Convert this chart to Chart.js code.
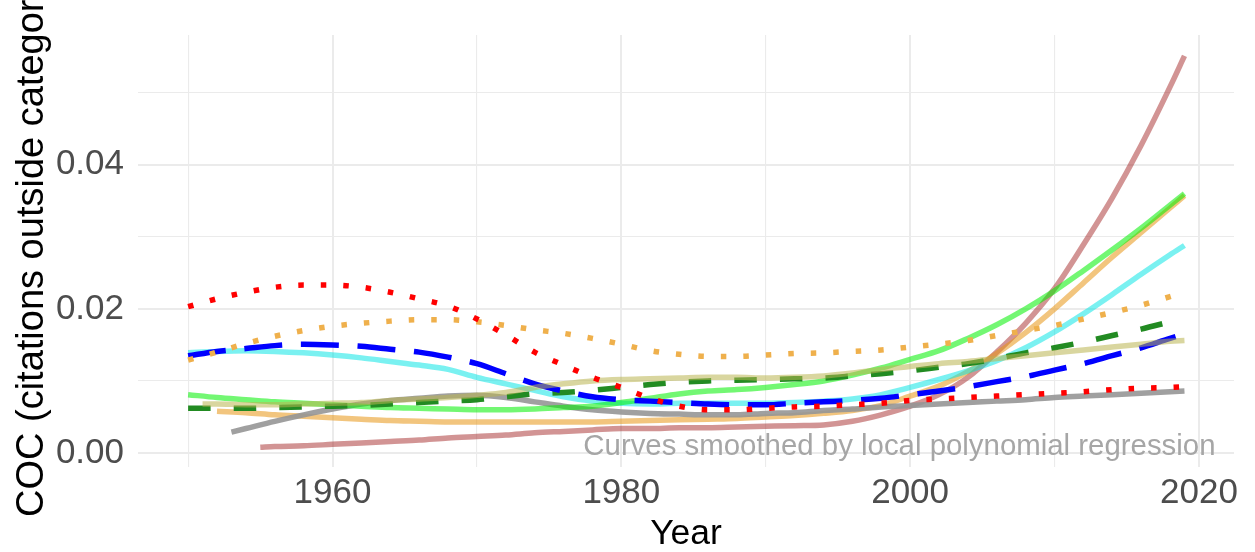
<!DOCTYPE html>
<html>
<head>
<meta charset="utf-8">
<style>
  html, body { margin: 0; padding: 0; background: #ffffff; }
  #chart { display: block; }
</style>
<script src="https://cdn.jsdelivr.net/npm/chart.js@4/dist/chart.umd.min.js"></script>
</head>
<body>
<canvas id="chart" width="1255" height="552"></canvas>
<script>
// Publication years sampled along the smoothed curves
const years = [1950, 1952, 1954, 1956, 1958, 1960, 1962, 1964, 1966, 1968,
               1970, 1972, 1974, 1976, 1978, 1980, 1982, 1984, 1986, 1988,
               1990, 1992, 1994, 1996, 1998, 2000, 2002, 2004, 2006, 2008,
               2010, 2012, 2014, 2016, 2018, 2019];

// Some categories start later than 1950
const yearsFrom1951 = [1951, ...years.slice(1)];
const yearsFrom1952 = years.slice(1);
const yearsFrom1953 = [1953, 1954, ...years.slice(3)];
const yearsFrom1955 = [1955, 1956, ...years.slice(4)];

// Smoothed COC values per category
const redDotted = [0.0203, 0.0214, 0.0223, 0.0230, 0.0233, 0.0233, 0.0230, 0.0223, 0.0214, 0.0204,
                   0.0186, 0.0164, 0.0140, 0.0122, 0.0105, 0.0091, 0.0076, 0.0065, 0.0060, 0.0060,
                   0.0062, 0.0064, 0.0065, 0.0067, 0.0069, 0.0073, 0.0075, 0.0077, 0.0079, 0.0081,
                   0.0083, 0.0085, 0.0088, 0.0090, 0.0091, 0.0092];
const orangeDotted = [0.0129, 0.0140, 0.0152, 0.0162, 0.0170, 0.0176, 0.0180, 0.0183, 0.0185, 0.0185,
                      0.0182, 0.0177, 0.0171, 0.0166, 0.0159, 0.0151, 0.0142, 0.0137, 0.0134, 0.0134,
                      0.0136, 0.0138, 0.0139, 0.0141, 0.0143, 0.0147, 0.0151, 0.0156, 0.0163, 0.0170,
                      0.0177, 0.0186, 0.0195, 0.0205, 0.0217, 0.0223];
const blueDashed = [0.0135, 0.0141, 0.0145, 0.0149, 0.0151, 0.0150, 0.0148, 0.0144, 0.0140, 0.0133,
                    0.0124, 0.0110, 0.0096, 0.0086, 0.0078, 0.0074, 0.0072, 0.0070, 0.0068, 0.0067,
                    0.0067, 0.0069, 0.0071, 0.0073, 0.0076, 0.0081, 0.0086, 0.0092, 0.0099, 0.0106,
                    0.0115, 0.0124, 0.0135, 0.0146, 0.0159, 0.0165];
const cyanSolid = [0.0139, 0.0141, 0.0142, 0.0141, 0.0139, 0.0136, 0.0132, 0.0127, 0.0122, 0.0116,
                   0.0105, 0.0096, 0.0087, 0.0078, 0.0072, 0.0069, 0.0068, 0.0069, 0.0069, 0.0069,
                   0.0069, 0.0070, 0.0072, 0.0075, 0.0081, 0.0091, 0.0102, 0.0114, 0.0128, 0.0146,
                   0.0168, 0.0193, 0.0220, 0.0248, 0.0275, 0.0288];
const greenSolid = [0.0081, 0.0077, 0.0074, 0.0071, 0.0069, 0.0067, 0.0065, 0.0063, 0.0062, 0.0061,
                    0.0060, 0.0060, 0.0061, 0.0063, 0.0065, 0.0070, 0.0076, 0.0082, 0.0086, 0.0088,
                    0.0091, 0.0095, 0.0100, 0.0108, 0.0118, 0.0130, 0.0142, 0.0159, 0.0178, 0.0200,
                    0.0225, 0.0253, 0.0282, 0.0312, 0.0344, 0.0360];
const darkGreenDashed = [0.0062, 0.0062, 0.0062, 0.0063, 0.0064, 0.0065, 0.0066, 0.0068, 0.0070, 0.0072,
                         0.0074, 0.0078, 0.0082, 0.0084, 0.0087, 0.0091, 0.0095, 0.0098, 0.0100, 0.0101,
                         0.0102, 0.0103, 0.0104, 0.0107, 0.0110, 0.0114, 0.0119, 0.0124, 0.0131, 0.0139,
                         0.0146, 0.0154, 0.0163, 0.0172, 0.0182, 0.0187];
const khakiSolid = [0.0068, 0.0068, 0.0067, 0.0067, 0.0068, 0.0069, 0.0070, 0.0073, 0.0075, 0.0077,
                    0.0080, 0.0084, 0.0091, 0.0096, 0.0100, 0.0102, 0.0103, 0.0104, 0.0105, 0.0105,
                    0.0104, 0.0105, 0.0107, 0.0111, 0.0116, 0.0120, 0.0124, 0.0127, 0.0131, 0.0135,
                    0.0139, 0.0143, 0.0147, 0.0151, 0.0155, 0.0156];
const orangeSolid = [0.0058, 0.0056, 0.0053, 0.0051, 0.0049, 0.0047, 0.0045, 0.0044, 0.0043,
                     0.0043, 0.0043, 0.0043, 0.0043, 0.0043, 0.0044, 0.0045, 0.0046, 0.0047, 0.0048,
                     0.0050, 0.0052, 0.0055, 0.0059, 0.0066, 0.0079, 0.0093, 0.0113, 0.0138, 0.0167,
                     0.0200, 0.0236, 0.0272, 0.0306, 0.0340, 0.0357];
const greySolid = [0.0029, 0.0034, 0.0044, 0.0053, 0.0061, 0.0068, 0.0073, 0.0076, 0.0079,
                   0.0080, 0.0077, 0.0071, 0.0065, 0.0060, 0.0057, 0.0055, 0.0054, 0.0053, 0.0053,
                   0.0055, 0.0056, 0.0059, 0.0061, 0.0064, 0.0066, 0.0068, 0.0070, 0.0072, 0.0074,
                   0.0077, 0.0079, 0.0081, 0.0083, 0.0085, 0.0086];
const brownSolid = [0.0008, 0.0009, 0.0010, 0.0012, 0.0014, 0.0016, 0.0018, 0.0021, 0.0023,
                    0.0025, 0.0028, 0.0030, 0.0032, 0.0034, 0.0034, 0.0035, 0.0035, 0.0036, 0.0037,
                    0.0038, 0.0039, 0.0044, 0.0053, 0.0065, 0.0081, 0.0105, 0.0140, 0.0180, 0.0228,
                    0.0289, 0.0354, 0.0427, 0.0508, 0.0551];

// Axis tick positions and labels
const xTicks = [1950, 1960, 1970, 1980, 1990, 2000, 2010, 2020];
const xLabels = [1960, 1980, 2000, 2020];
const yTicks = [0, 0.01, 0.02, 0.03, 0.04, 0.05];
const yLabels = [0, 0.02, 0.04];

const xTitle = 'Year';
const yTitle = 'COC (citations outside category)';
const note = 'Curves smoothed by local polynomial regression';

const FONT = '"Liberation Sans", Arial, sans-serif';

const toPoints = (xs, ys) => xs.map((x, i) => ({ x: x, y: ys[i] }));

function series(xs, ys, color, dash, order) {
  return {
    data: toPoints(xs, ys),
    borderColor: color,
    borderWidth: 5.5,
    borderDash: dash,
    borderCapStyle: 'butt',
    borderJoinStyle: 'round',
    pointRadius: 0,
    pointHoverRadius: 0,
    fill: false,
    cubicInterpolationMode: 'monotone',
    order: order
  };
}

const DOT = [5.5, 17];
const DASH = [22.5, 23.1];
const LONGDASH = [38, 18.7];

const datasets = [
  series(yearsFrom1955, brownSolid, 'rgba(165,42,42,0.5)', [], 10),
  series(yearsFrom1952, orangeSolid, 'rgba(232,150,20,0.55)', [], 9),
  series(yearsFrom1953, greySolid, 'rgba(150,150,150,0.9)', [], 8),
  series(years, cyanSolid, 'rgba(0,228,228,0.52)', [], 7),
  series(years, greenSolid, 'rgba(0,240,0,0.55)', [], 6),
  series(years, darkGreenDashed, '#228B22', DASH, 5),
  series(years, blueDashed, '#0000FF', LONGDASH, 4),
  series(yearsFrom1951, khakiSolid, 'rgba(185,180,80,0.55)', [], 3),
  series(years, orangeDotted, '#EFB04C', DOT, 2),
  series(years, redDotted, '#FF0000', DOT, 1)
];

const textPlugin = {
  id: 'textPlugin',
  beforeDatasetsDraw(chart) {
    const { ctx, scales } = chart;
    ctx.save();
    ctx.font = '29.4px ' + FONT;
    ctx.fillStyle = '#A6A6A6';
    ctx.textAlign = 'right';
    ctx.textBaseline = 'alphabetic';
    ctx.fillText(note, scales.x.getPixelForValue(2021.15), scales.y.getPixelForValue(-0.00024));
    ctx.restore();
  },
  afterDraw(chart) {
    const { ctx } = chart;
    ctx.save();
    ctx.font = '38px ' + FONT;
    ctx.fillStyle = '#000000';
    ctx.textAlign = 'left';
    ctx.textBaseline = 'alphabetic';
    ctx.translate(43, 517);
    ctx.rotate(-Math.PI / 2);
    ctx.fillText(yTitle, 0, 0);
    ctx.restore();
  }
};

new Chart(document.getElementById('chart'), {
  type: 'line',
  data: { datasets: datasets },
  plugins: [textPlugin],
  options: {
    responsive: false,
    animation: false,
    devicePixelRatio: 1,
    layout: { padding: { top: 25, right: 21, bottom: 0, left: 0 } },
    plugins: {
      legend: { display: false },
      tooltip: { enabled: false },
      title: { display: false }
    },
    scales: {
      x: {
        type: 'linear',
        min: 1946.53,
        max: 2022.43,
        afterBuildTicks: (scale) => { scale.ticks = xTicks.map(v => ({ value: v })); },
        afterFit: (scale) => { scale.height = 85; },
        border: { display: false },
        grid: {
          color: '#EBEBEB',
          lineWidth: (c) => (c.tick && c.tick.value % 20 === 0 ? 2 : 1.1),
          drawTicks: false
        },
        ticks: {
          color: '#4D4D4D',
          font: { family: FONT, size: 35 },
          padding: 5,
          maxRotation: 0,
          autoSkip: false,
          callback: (v) => (xLabels.includes(v) ? String(v) : '')
        },
        title: {
          display: true,
          text: xTitle,
          color: '#000000',
          font: { family: FONT, size: 35.5 },
          padding: { top: 0, bottom: -4 }
        }
      },
      y: {
        type: 'linear',
        min: -0.00194,
        max: 0.058,
        afterBuildTicks: (scale) => { scale.ticks = yTicks.map(v => ({ value: v })); },
        afterFit: (scale) => { scale.width = 138; },
        border: { display: false },
        grid: {
          color: '#EBEBEB',
          lineWidth: (c) => (c.tick && yLabels.some(v => Math.abs(v - c.tick.value) < 1e-9) ? 2 : 1.1),
          drawTicks: false
        },
        ticks: {
          color: '#4D4D4D',
          font: { family: FONT, size: 35 },
          padding: 14,
          autoSkip: false,
          callback: (v) => (yLabels.some(l => Math.abs(l - v) < 1e-9) ? v.toFixed(2) : '')
        }
      }
    }
  }
});
</script>
</body>
</html>
